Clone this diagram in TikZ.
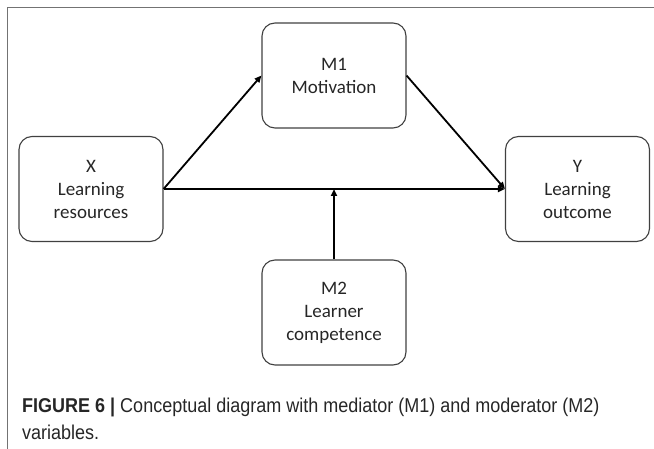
\documentclass[tikz,border=0pt]{standalone}
\usepackage{fontspec}
\setmainfont{Carlito}
\newfontfamily\capfont[FakeStretch=0.9]{Liberation Sans}
\usetikzlibrary{arrows.meta}

\begin{document}
\begin{tikzpicture}[x=1pt,y=-1pt,
    var/.style={draw=black!75,line width=1.1pt,rounded corners=13pt,minimum width=144pt,
      minimum height=105pt,align=center,font=\fontsize{19}{23}\selectfont,text=black!85},
    arr/.style={line width=1.8pt,-{Triangle[length=7pt,width=6pt]}}]
  \useasboundingbox (0,0) rectangle (654,449);
  \draw[black!55,line width=1.3pt] (654,7.5) -- (7.5,7.5) -- (7.5,449);
  \node[var] (M1) at (334,75.5) {M1\\Motivation};
  \node[var] (X) at (91,189) {X\\Learning\\resources};
  \node[var] (Y) at (577.5,189) {Y\\Learning\\outcome};
  \node[var] (M2) at (334,312.5) {M2\\Learner\\competence};
  \coordinate (mod) at (334,189);
  \path[arr]
    (X.east) edge (M1.west)
             edge (Y.west)
    (M1.east) edge (Y.west)
    (M2.north) edge (mod);
  \node[anchor=base west,inner sep=0pt,font=\capfont\fontsize{20}{26}\selectfont,text=black!85]
    (cap1) at (22,413) {\textbf{FIGURE 6 |} Conceptual diagram with mediator (M1) and moderator (M2)};
  \node[anchor=base west,inner sep=0pt,font=\capfont\fontsize{20}{26}\selectfont,text=black!85]
    (cap2) at (22,439) {variables.};
\end{tikzpicture}
\end{document}
